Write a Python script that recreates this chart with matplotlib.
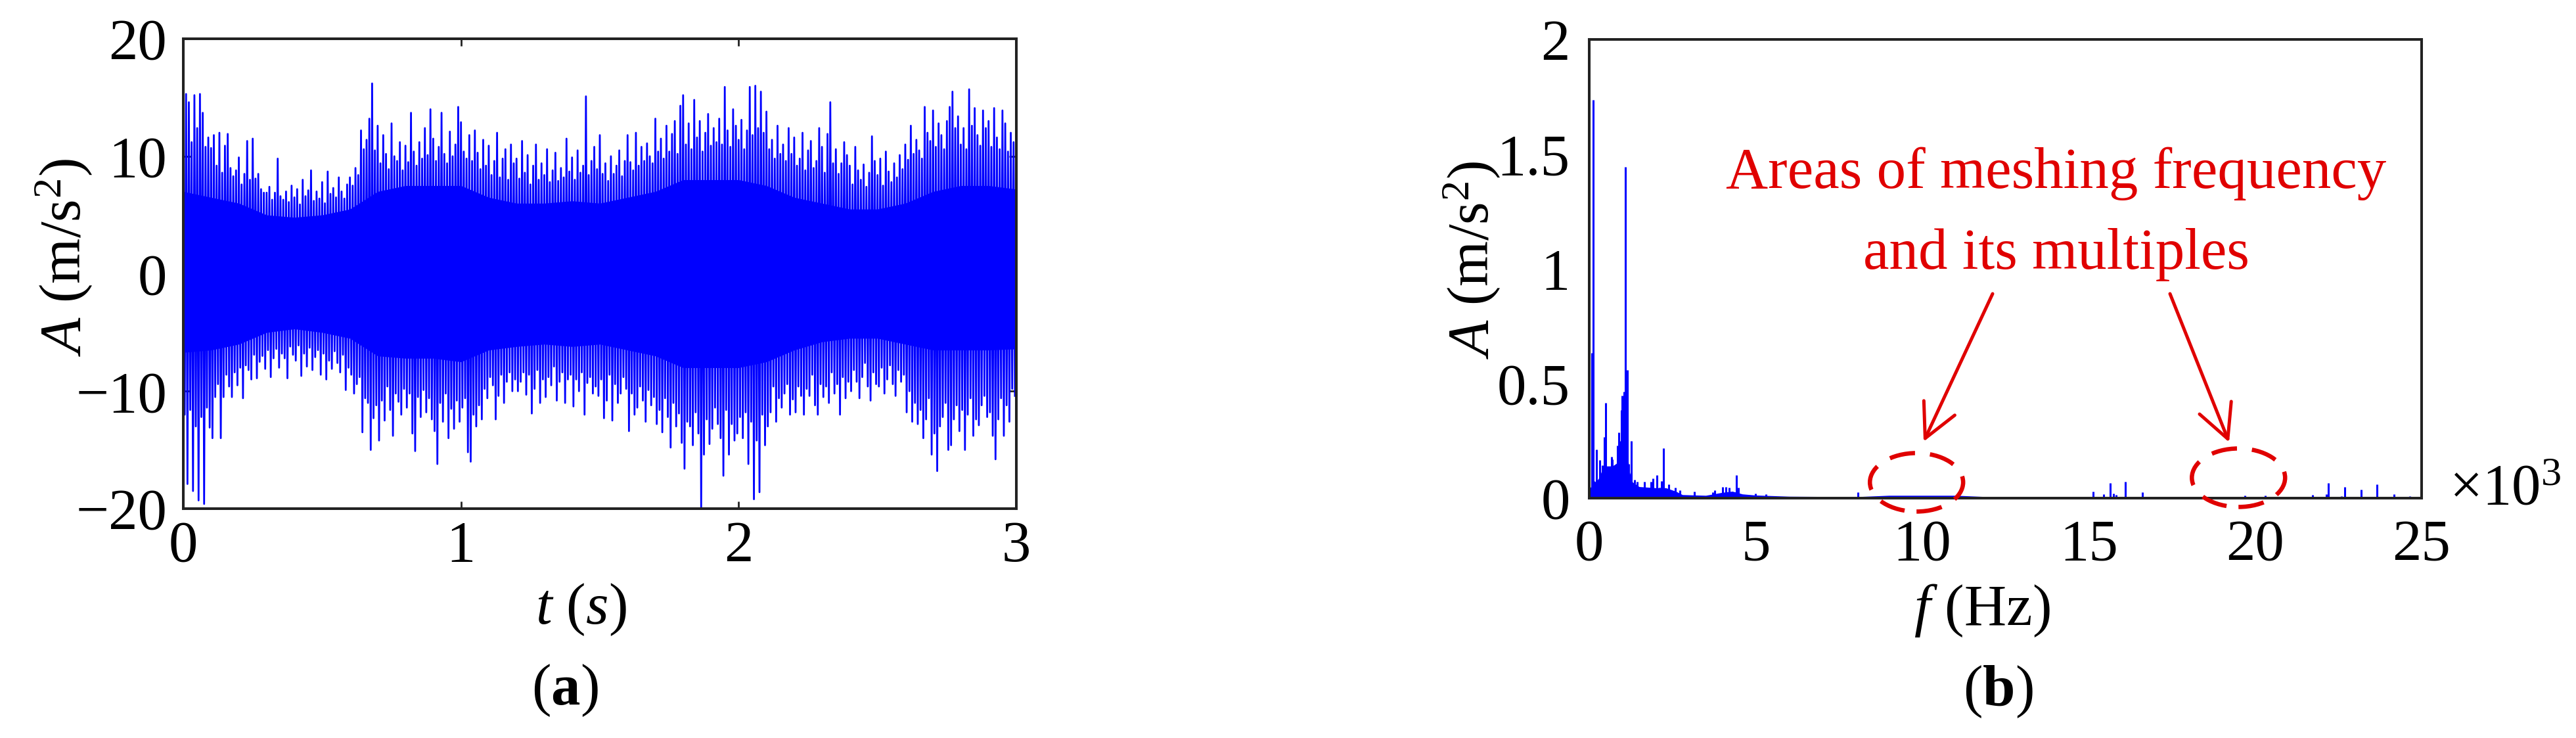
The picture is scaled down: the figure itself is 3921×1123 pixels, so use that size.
import matplotlib
matplotlib.use('Agg')
import matplotlib.pyplot as plt
import numpy as np
from matplotlib.patches import Ellipse
from matplotlib.ticker import FuncFormatter

plt.rcParams['font.family'] = ['Liberation Serif', 'DejaVu Serif']
plt.rcParams['mathtext.fontset'] = 'custom'
plt.rcParams['mathtext.rm'] = 'Liberation Serif'
plt.rcParams['mathtext.it'] = 'Liberation Serif:italic'
plt.rcParams['mathtext.bf'] = 'Liberation Serif:bold'

# ---- (a) time signal: local maxima / minima, one pair every 0.01 s
sig_upper = [
    12.9, 15.3, 14.6, 11.2, 15.2, 12.4, 15.3, 13.7, 10.8, 11.6,
    10.7, 11.8, 9.2, 12.0, 8.6, 10.9, 11.9, 9.0, 8.3, 8.8,
    9.9, 7.6, 8.5, 11.3, 8.0, 11.5, 8.1, 8.5, 7.2, 6.9,
    6.9, 7.4, 6.3, 6.9, 9.8, 6.6, 6.3, 7.0, 6.1, 7.5,
    6.5, 7.2, 5.9, 8.0, 6.6, 7.1, 8.8, 6.2, 7.0, 6.4,
    7.8, 6.0, 8.7, 6.8, 7.3, 6.5, 8.2, 7.0, 6.4, 7.6,
    8.2, 7.5, 9.0, 8.4, 12.2, 10.6, 11.4, 13.2, 16.2, 10.5,
    12.6, 9.4, 11.8, 10.2, 8.9, 12.8, 10.0, 9.6, 11.2, 8.8,
    10.9, 9.5, 13.7, 10.4, 9.2, 11.2, 9.8, 12.4, 10.1, 14.0,
    11.5, 9.6, 10.8, 13.7, 10.2, 9.4, 12.1, 10.0, 11.0, 14.2,
    12.9, 10.4, 9.8, 11.8, 9.6, 12.2, 10.3, 8.9, 11.4, 9.2,
    10.9, 8.4, 9.6, 12.0, 8.2, 9.8, 10.6, 8.0, 11.0, 9.4,
    9.8, 8.1, 11.3, 8.6, 10.1, 7.6, 9.2, 11.0, 8.0, 9.4,
    8.4, 10.6, 7.8, 8.8, 10.3, 7.9, 9.0, 8.2, 11.5, 8.7,
    9.9, 8.0, 10.5, 8.6, 9.2, 15.1, 8.4, 9.6, 10.8, 8.9,
    11.8, 8.5, 9.4, 7.9, 10.0, 8.5, 9.2, 10.5, 8.3, 9.6,
    11.8, 9.5, 8.8, 12.0, 9.2, 10.8, 9.6, 11.1, 10.0, 9.4,
    13.2, 10.4, 11.5, 9.8, 12.6, 10.4, 11.9, 13.0, 10.2, 14.3,
    15.2, 11.0, 12.8, 10.6, 14.8, 11.6, 13.0, 10.4, 12.0, 13.6,
    10.9, 12.4, 11.2, 13.2, 11.0, 15.9, 12.2, 10.8, 14.0, 12.6,
    11.4, 13.1, 10.6, 12.2, 15.9, 11.8, 16.0, 12.4, 15.5, 12.0,
    13.8, 10.6, 11.4, 9.8, 12.6, 10.2, 11.0, 9.6, 12.4, 10.2,
    11.6, 9.2, 9.8, 12.0, 8.8, 10.5, 11.3, 9.0, 9.6, 12.4,
    10.8, 8.6, 11.9, 14.6, 9.4, 10.6, 8.5, 9.4, 11.2, 10.1,
    9.2, 7.6, 10.8, 8.8, 8.0, 9.3, 7.4, 8.6, 11.7, 9.6,
    8.4, 9.8, 7.5, 10.4, 8.7, 7.8, 9.4, 8.2, 10.1, 8.9,
    11.0, 9.7, 12.6, 10.2, 11.4, 10.5, 9.8, 14.2, 12.0, 11.3,
    13.9, 10.8, 12.8, 11.8, 10.6, 13.0, 14.2, 15.5, 12.4, 13.4,
    11.0, 12.4, 10.6, 15.7, 12.6, 14.1, 11.8, 10.9, 13.9, 12.4,
    13.0, 10.8, 14.1, 11.6, 10.6, 13.9, 12.8, 10.4, 12.0, 11.2,
]
sig_lower = [
    -12.0, -17.9, -11.6, -18.5, -13.0, -19.3, -12.2, -19.6, -11.4, -13.1,
    -14.0, -10.5, -9.4, -14.0, -10.5, -8.6, -9.6, -10.5, -8.4, -9.5,
    -8.0, -10.6, -7.8, -8.2, -9.0, -6.9, -8.9, -7.5, -7.0, -8.1,
    -6.5, -8.8, -7.2, -6.4, -8.0, -6.8, -7.2, -8.9, -6.2, -6.9,
    -7.4, -6.1, -8.7, -6.8, -7.9, -6.3, -8.2, -7.1, -6.5, -8.6,
    -6.8, -9.0, -7.4, -8.1, -6.6, -7.6, -8.4, -6.9, -9.9, -8.0,
    -8.6, -10.2, -9.4, -8.8, -13.5, -10.6, -11.0, -15.0, -12.3, -11.2,
    -14.2, -10.8, -12.5, -9.6, -11.6, -13.8, -10.2, -10.9, -12.0, -9.8,
    -11.4, -10.2, -13.6, -15.1, -10.5, -12.2, -9.9, -11.8, -10.6, -12.4,
    -13.4, -16.2, -11.0, -12.6, -10.2, -14.0, -11.5, -13.2, -10.8, -12.6,
    -11.4, -10.6, -15.2, -16.0, -12.0, -13.0, -11.2, -12.4, -9.8, -10.6,
    -8.8, -9.5, -12.4, -10.4, -8.6, -11.0, -9.2, -8.4, -10.0, -9.0,
    -10.0, -9.2, -8.4, -10.3, -8.6, -11.9, -9.8, -8.2, -11.0, -9.0,
    -10.5, -8.8, -9.5, -7.9, -10.8, -9.2, -8.4, -11.0, -9.0, -8.6,
    -11.3, -9.0, -10.0, -8.4, -12.0, -9.3, -8.8, -10.2, -9.6, -10.4,
    -9.0, -12.3, -10.8, -8.6, -12.5, -9.4, -11.0, -10.2, -8.8, -9.8,
    -13.4, -10.2, -12.0, -11.4, -9.6, -10.8, -12.6, -9.9, -11.2, -10.5,
    -12.8, -11.6, -13.5, -10.6, -12.2, -14.8, -11.0, -13.0, -11.9, -14.4,
    -16.6, -12.6, -13.0, -14.6, -11.8, -13.6, -20.0, -15.4, -12.4, -14.5,
    -13.2, -11.4, -12.8, -14.0, -17.2, -11.6, -15.4, -12.8, -14.2, -13.6,
    -12.2, -14.0, -11.8, -16.2, -12.6, -19.2, -14.2, -18.6, -12.0, -14.6,
    -13.0, -11.8, -9.6, -12.6, -10.6, -11.4, -10.2, -9.4, -12.0, -10.7,
    -11.8, -9.6, -10.4, -12.0, -9.8, -10.4, -8.6, -11.2, -12.0, -9.4,
    -10.5, -9.6, -11.0, -8.4, -10.2, -9.4, -12.0, -8.8, -10.6, -9.2,
    -10.0, -8.2, -9.2, -10.6, -8.8, -7.6, -9.6, -10.8, -8.4, -9.4,
    -9.6, -8.0, -10.2, -9.0, -7.8, -9.4, -10.4, -8.2, -9.2, -8.6,
    -11.8, -10.0, -12.6, -11.0, -12.8, -11.6, -14.0, -12.4, -10.6, -15.4,
    -13.6, -16.8, -13.0, -12.2, -11.0, -15.0, -14.6, -12.4, -11.2, -13.4,
    -11.6, -15.0, -12.0, -10.6, -13.8, -12.4, -12.9, -11.2, -10.4, -12.2,
    -11.8, -13.8, -15.8, -12.4, -10.6, -13.8, -11.2, -12.6, -9.8, -10.4,
]
sig_dt = 0.01

# solid core of the trace, every 0.1 s
core_hi = [7.0, 6.5, 6.0, 5.0, 4.8, 5.0, 5.5, 7.0, 7.5, 7.5, 7.5, 6.5, 6.0, 6.0, 6.2, 6.0,
           6.5, 7.0, 8.0, 8.0, 8.0, 7.5, 6.5, 6.0, 5.5, 5.5, 6.0, 7.0, 7.5, 7.5, 7.2]
core_lo = [-6.7, -6.5, -6.0, -5.0, -4.7, -5.0, -5.5, -7.0, -7.2, -7.2, -7.5, -6.5, -6.2, -6.0, -6.2, -6.0,
           -6.5, -7.0, -8.0, -8.0, -8.0, -7.5, -6.5, -5.8, -5.5, -5.5, -6.0, -6.5, -6.5, -6.5, -6.4]

# ---- (b) spectrum, frequency in kHz
peak_f = [0.085, 0.118, 0.217, 0.316, 0.394, 0.447, 0.50, 0.566, 0.665, 0.70, 0.777, 0.855, 0.89, 0.93,
          0.96, 0.99, 1.04, 1.09, 1.137, 1.19, 1.27, 1.37, 1.45, 1.56, 1.65, 1.76, 1.86, 1.91, 2.03,
          2.11, 2.17, 2.22, 2.29, 2.39, 2.49, 2.58, 2.73, 3.16, 3.70, 3.77, 4.0, 4.1, 4.2, 4.36, 4.42,
          4.47, 5.0, 5.3, 8.07, 15.14, 15.45, 15.65, 15.75, 15.82, 16.11, 16.62, 19.7, 20.3, 21.72,
          22.14, 22.2, 22.6, 22.7, 23.18, 23.66, 24.17, 24.65]
peak_a = [0.633, 1.736, 0.212, 0.167, 0.143, 0.266, 0.415, 0.137, 0.181, 0.17, 0.137, 0.229, 0.287, 0.249,
          0.384, 0.447, 0.464, 1.445, 0.558, 0.149, 0.249, 0.080, 0.072, 0.026, 0.072, 0.02, 0.072, 0.086, 0.10,
          0.046, 0.075, 0.218, 0.04, 0.06, 0.03, 0.046, 0.035, 0.03, 0.025, 0.035, 0.05, 0.05, 0.045, 0.025, 0.10,
          0.046, 0.02, 0.018, 0.026, 0.029, 0.017, 0.066, 0.02, 0.015, 0.071, 0.026, 0.012, 0.012, 0.014,
          0.017, 0.066, 0.01, 0.05, 0.037, 0.06, 0.018, 0.01]

floor_f = [0.0, 0.05, 0.1, 0.2, 0.3, 0.4, 0.5, 0.7, 0.9, 1.0, 1.1, 1.2, 1.3, 1.5, 2.0, 2.3, 2.6, 2.8,
           3.5, 4.0, 4.3, 4.6, 5.0, 6.0, 8.0, 9.0, 11.0, 12.0, 25.0]
floor_a = [0.04, 0.05, 0.08, 0.07, 0.09, 0.13, 0.14, 0.14, 0.16, 0.22, 0.27, 0.12, 0.07, 0.05, 0.045, 0.045,
           0.03, 0.015, 0.012, 0.025, 0.03, 0.018, 0.013, 0.008, 0.006, 0.012, 0.012, 0.006, 0.006]

blue = '#0000ff'
red = '#e00000'
W, H = 3921, 1123


def px(x, y):
    # reference pixel (from top-left) -> figure fraction
    return x / W, 1 - y / H


fig = plt.figure(figsize=(W / 100, H / 100), dpi=100)
ax1 = fig.add_axes([279 / W, 1 - 774 / H, 1268 / W, 715 / H])
ax2 = fig.add_axes([2419 / W, 1 - 758 / H, 1267 / W, 698 / H])

# time signal as a zigzag through the extremes
t_up = np.arange(len(sig_upper)) * sig_dt
t_dn = t_up + sig_dt / 2
sig_t = np.column_stack([t_up, t_dn]).ravel()
sig_v = np.column_stack([sig_upper, sig_lower]).ravel()
core_t = np.linspace(0, 3, len(core_hi))
ax1.fill_between(core_t, core_lo, core_hi, color=blue, lw=0)
ax1.plot(sig_t, sig_v, color=blue, lw=2.0)
ax1.set_xlim(0, 3)
ax1.set_ylim(-20, 20)
ax1.set_xticks([0, 1, 2, 3])
ax1.set_yticks([-20, -10, 0, 10, 20])

# spectrum
ax2.fill_between(floor_f, 0, floor_a, color=blue, lw=0)
ax2.vlines(peak_f, 0, peak_a, color=blue, lw=2.2)
ax2.set_xlim(0, 25)
ax2.set_ylim(0, 2)
ax2.set_xticks([0, 5, 10, 15, 20, 25])
ax2.set_yticks([0, 0.5, 1, 1.5, 2])
ax2.yaxis.set_major_formatter(FuncFormatter(lambda v, p: '%g' % v))

for ax in (ax1, ax2):
    for s in ax.spines.values():
        s.set_linewidth(2.9)
        s.set_color('#222222')

ax1.tick_params(direction='in', length=8, width=2, color='#222222', top=True, right=True, labelsize=64)
ax1.tick_params(axis='x', pad=13)
ax1.tick_params(axis='y', pad=18)
ax2.tick_params(length=0, labelsize=64)
ax2.tick_params(axis='x', pad=23)
ax2.tick_params(axis='y', pad=21)

# highlighted areas
for cx, cy in [(9.83, 0.069), (19.5, 0.089)]:
    ax2.add_patch(Ellipse((cx, cy), 2.8, 0.255, fill=False, edgecolor=red, lw=4.7,
                          linestyle=(0, (6, 3.5)), clip_on=False, zorder=5))

arrow = dict(arrowstyle='->,head_length=36.7,head_width=18.7', mutation_scale=1,
             color=red, lw=3.6, shrinkA=0, shrinkB=0)
ax2.annotate('', xy=(2928, 1123 - 672), xycoords='figure pixels',
             xytext=(3033, 1123 - 447), textcoords='figure pixels', arrowprops=arrow)
ax2.annotate('', xy=(3393, 1123 - 673), xycoords='figure pixels',
             xytext=(3303, 1123 - 447), textcoords='figure pixels', arrowprops=arrow)

fig.text(*px(3130, 286), 'Areas of meshing frequency', color=red, ha='center', va='baseline', fontsize=64)
fig.text(*px(3130, 409), 'and its multiples', color=red, ha='center', va='baseline', fontsize=64)

# labels
ylab = r'$\mathit{A}$ (m/s$^{2}$)'
fig.text(*px(97, 392), ylab, rotation=90, ha='center', va='center', fontsize=64)
fig.text(*px(2240, 396), ylab, rotation=90, ha='center', va='center', fontsize=64)
fig.text(*px(884, 949), r'$\mathit{t}$ ($\mathit{s}$)', ha='center', va='baseline', fontsize=64)
fig.text(*px(860, 1072), r'($\mathbf{a}$)', ha='center', va='baseline', fontsize=64)
fig.text(*px(3017, 951), r'$\mathit{f}$ (Hz)', ha='center', va='baseline', fontsize=64)
fig.text(*px(3041, 1074), r'($\mathbf{b}$)', ha='center', va='baseline', fontsize=64)
fig.text(*px(3728, 767), r'×10$^{3}$', ha='left', va='baseline', fontsize=64)

fig.savefig('out.png', dpi=100)
